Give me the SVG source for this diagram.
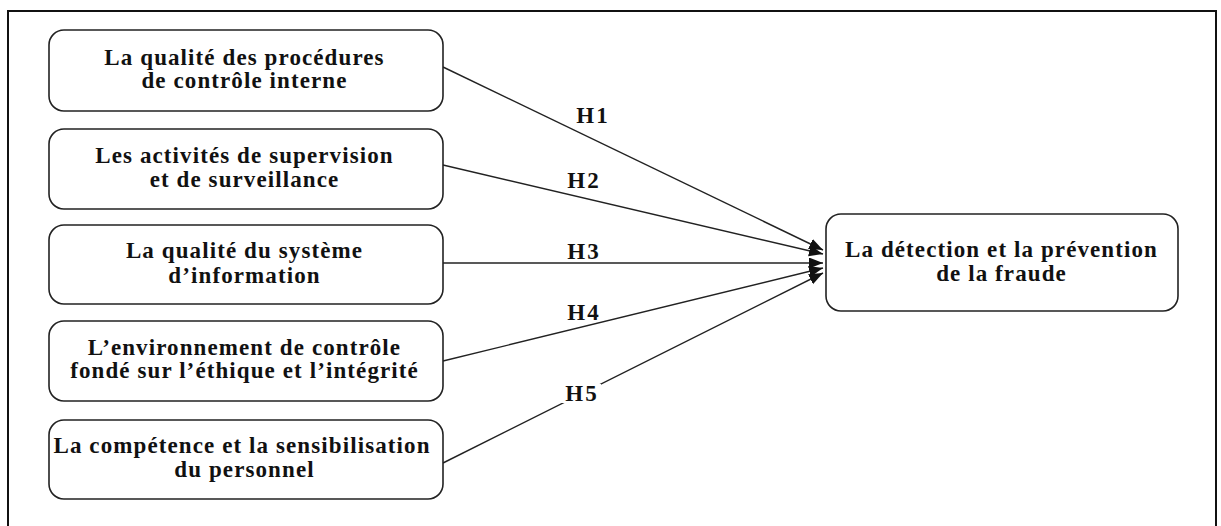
<svg xmlns="http://www.w3.org/2000/svg" width="1221" height="526" viewBox="0 0 1221 526">
<style>
.box{fill:#fff;stroke:#222;stroke-width:1.6}
.t{font-family:"Liberation Serif","Times New Roman",serif;font-weight:bold;font-size:23px;letter-spacing:1.1px;fill:#111;text-anchor:middle}
.h{font-family:"Liberation Serif","Times New Roman",serif;font-weight:bold;font-size:23px;letter-spacing:2px;fill:#111;text-anchor:middle}
.c{stroke:#222;stroke-width:1.4;fill:none;marker-end:url(#arr)}
</style>
<defs>
<marker id="arr" markerUnits="userSpaceOnUse" markerWidth="15" markerHeight="12" refX="14" refY="5.5" orient="auto">
<path d="M0,0 L14,5.5 L0,11 Z" fill="#111"/>
</marker>
</defs>
<rect x="0" y="0" width="1221" height="526" fill="#fff"/>
<rect x="8" y="11" width="1208" height="530" fill="none" stroke="#111" stroke-width="2"/>
<g id="connectors">
<line class="c" x1="443" y1="67" x2="823" y2="250"/>
<line class="c" x1="443" y1="165" x2="823" y2="254"/>
<line class="c" x1="443" y1="263" x2="823" y2="263"/>
<line class="c" x1="443" y1="361" x2="823" y2="268"/>
<line class="c" x1="443" y1="463" x2="823" y2="273"/>
<rect x="561" y="384" width="40" height="19" fill="#fff"/>
<text class="h" x="593" y="123">H1</text>
<text class="h" x="584" y="188">H2</text>
<text class="h" x="584" y="259">H3</text>
<text class="h" x="584" y="320">H4</text>
<text class="h" x="582" y="401">H5</text>
</g>
<g id="n1">
<rect class="box" x="49" y="30" width="394" height="81" rx="15"/>
<text class="t" x="244.5" y="65">La qualité des procédures</text>
<text class="t" x="244.5" y="88">de contrôle interne</text>
</g>
<g id="n2">
<rect class="box" x="49" y="129" width="394" height="80" rx="15"/>
<text class="t" x="244.5" y="163">Les activités de supervision</text>
<text class="t" x="244.5" y="187">et de surveillance</text>
</g>
<g id="n3">
<rect class="box" x="49" y="225" width="394" height="79" rx="15"/>
<text class="t" x="244.5" y="258">La qualité du système</text>
<text class="t" x="244.5" y="283">d’information</text>
</g>
<g id="n4">
<rect class="box" x="49" y="321" width="394" height="80" rx="15"/>
<text class="t" x="244.5" y="355">L’environnement de contrôle</text>
<text class="t" x="244.5" y="378">fondé sur l’éthique et l’intégrité</text>
</g>
<g id="n5">
<rect class="box" x="49" y="420" width="394" height="79" rx="15"/>
<text class="t" x="242" y="453">La compétence et la sensibilisation</text>
<text class="t" x="244.5" y="477">du personnel</text>
</g>
<g id="n6">
<rect class="box" x="826" y="214" width="352" height="97" rx="15"/>
<text class="t" x="1001.5" y="257">La détection et la prévention</text>
<text class="t" x="1001.5" y="281">de la fraude</text>
</g>
</svg>
